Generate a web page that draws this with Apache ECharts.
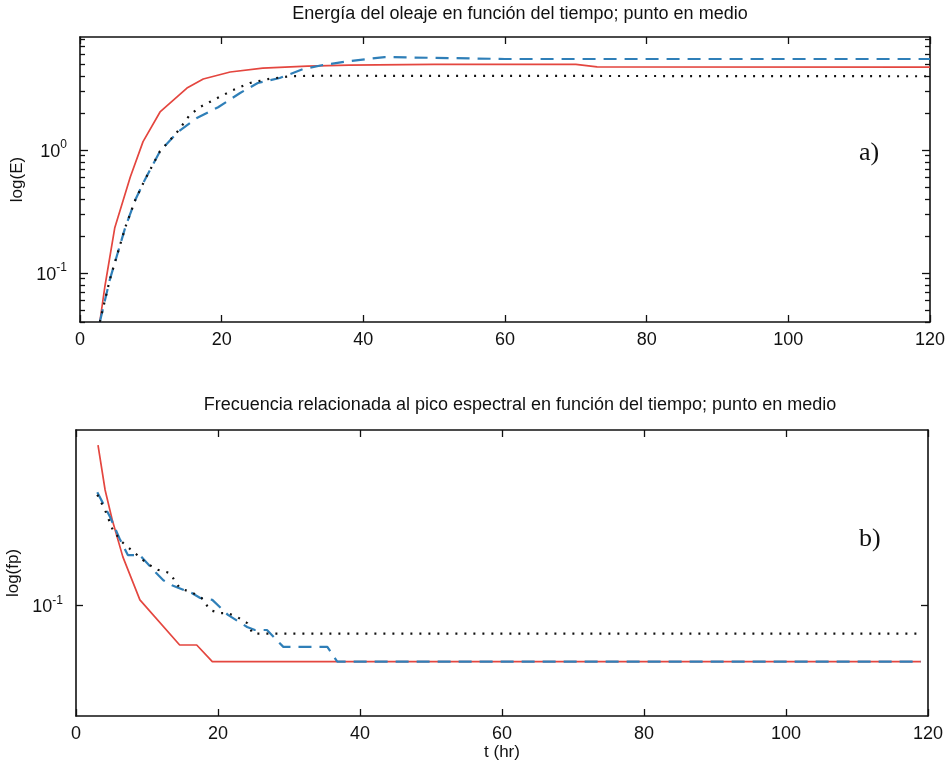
<!DOCTYPE html>
<html>
<head>
<meta charset="utf-8">
<script src="https://cdn.jsdelivr.net/npm/echarts@6/dist/echarts.min.js"></script>
<style>html,body{margin:0;padding:0;background:#fff}#c{width:947px;height:769px}</style>
</head>
<body>
<div id="c"></div>
<script>
// ---- Data ----
const xTicks = [0, 20, 40, 60, 80, 100, 120];

// a) Energy vs time
const energyRed = [[2.8,0.04],[3.5,0.077],[4.9,0.232],[7.1,0.603],[8.9,1.17],[11.3,2.04],[15.1,3.19],[17.4,3.78],[21.2,4.31],[25.8,4.64],[32.1,4.82],[38,4.9],[50,4.97],[70,4.97],[73,4.75],[120,4.72]];
const energyBlue = [[2.8,0.04],[4.2,0.088],[6.4,0.236],[7.8,0.392],[9.2,0.58],[11.3,0.98],[13.8,1.40],[16.5,1.82],[19.5,2.23],[22.6,2.91],[25.1,3.51],[28.2,3.85],[31.5,4.56],[34.3,4.91],[38.1,5.29],[43,5.7],[50,5.62],[60,5.5],[120,5.5]];
const energyDot = [[2.8,0.04],[4.2,0.088],[6.4,0.236],[7.8,0.392],[9.2,0.58],[11.3,0.98],[13.8,1.42],[15.5,1.93],[16.9,2.23],[19.4,2.65],[21.6,3.07],[24,3.51],[26.8,3.8],[29.7,3.98],[33.5,4.02],[120,3.98]];

// b) Peak frequency vs time
const freqRed = [[3.1,0.273],[4.1,0.206],[5.1,0.171],[6.6,0.1355],[9.0,0.1035],[14.6,0.078],[17.0,0.078],[19.2,0.0703],[119,0.0703]];
const freqBlue = [[3.0,0.203],[4.8,0.174],[6.2,0.151],[7.3,0.137],[9.0,0.137],[10.7,0.126],[12.3,0.117],[13.5,0.1135],[16.3,0.108],[17.5,0.1047],[19.2,0.1035],[21.4,0.0942],[24.1,0.0873],[25.2,0.0857],[26.9,0.0857],[29.2,0.0771],[35.4,0.0771],[36.8,0.0703],[119,0.0703]];
const freqDot = [[3.0,0.2],[4.1,0.1815],[5.2,0.16],[6.5,0.1486],[10,0.130],[11.5,0.125],[13.2,0.1225],[14.6,0.1115],[16.5,0.108],[17.7,0.1047],[18.9,0.097],[20.3,0.0953],[21.3,0.0953],[22.7,0.093],[24.1,0.0895],[24.9,0.0838],[119,0.0838]];

// Tick values
const energyYLabels = [0.1, 1];
const energyYMinor = [0.04,0.05,0.06,0.07,0.08,0.09,0.2,0.3,0.4,0.5,0.6,0.7,0.8,0.9,2,3,4,5,6,7,8];
const freqYLabels = [0.1];

const titleA = 'Energía del oleaje en función del tiempo; punto en medio';
const titleB = 'Frecuencia relacionada al pico espectral en función del tiempo; punto en medio';

// ---- Chart ----
const FONT = "'Liberation Sans',Arial,sans-serif";
const RED = '#e4463f', BLUE = '#2f7fb8', BLACK = '#111';
const lineAxis = {onZero:false, lineStyle:{color:'#111',width:1.6}};

function powLabel(v){
  const e = Math.round(Math.log10(v));
  return '{b|10}{s|' + (e < 0 ? '-' + (-e) : e) + '}';
}
const richSup = {
  b:{fontSize:18,fontFamily:FONT,color:'#111',verticalAlign:'bottom',lineHeight:22},
  s:{fontSize:12,fontFamily:FONT,color:'#111',verticalAlign:'top',lineHeight:22,padding:[0,0,10,0]}
};

function xAx(gi, pos, labels, extra){
  return Object.assign({
    type:'value', gridIndex:gi, position:pos, min:0, max:120, interval:20,
    axisLine:lineAxis, axisTick:{show:true,inside:true,length:7,lineStyle:{color:'#111',width:1.3}},
    axisLabel:{show:labels,fontSize:18,fontFamily:FONT,color:'#111',margin:9},
    splitLine:{show:false}
  }, extra||{});
}
function yAx(gi, pos, labels, min, max, ticks, tickLen, labs, showLine, extra){
  return Object.assign({
    type:'log', logBase:10, gridIndex:gi, position:pos, min:min, max:max,
    axisLine:Object.assign({show:showLine}, lineAxis),
    axisTick:{show:true,inside:true,length:tickLen,customValues:ticks,lineStyle:{color:'#111',width:1.3}},
    axisLabel:{show:labels,customValues:labs,margin:13,formatter:powLabel,rich:richSup},
    splitLine:{show:false}, minorTick:{show:false}
  }, extra||{});
}
const nameStyle = {fontSize:17,fontFamily:FONT,color:'#111'};

const chart = echarts.init(document.getElementById('c'), null, {renderer:'canvas'});
chart.setOption({
  animation:false,
  backgroundColor:'#fff',
  grid:[
    {left:80, top:37, width:850, height:285, outerBoundsMode:'none'},
    {left:76, top:430, width:852, height:286, outerBoundsMode:'none'}
  ],
  xAxis:[
    xAx(0,'bottom',true),
    xAx(0,'top',false),
    xAx(1,'bottom',true,{name:'t (hr)',nameLocation:'middle',nameGap:28,nameTextStyle:nameStyle}),
    xAx(1,'top',false)
  ],
  yAxis:[
    // top grid: major ticks with labels, minor ticks on both sides
    yAx(0,'left',true,0.04,8.3,energyYLabels,8,energyYLabels,true,{name:'log(E)',nameLocation:'middle',nameGap:42,nameRotate:90,nameTextStyle:nameStyle}),
    yAx(0,'right',false,0.04,8.3,energyYLabels,8,energyYLabels,true),
    yAx(0,'left',false,0.04,8.3,energyYMinor,5,energyYLabels,false),
    yAx(0,'right',false,0.04,8.3,energyYMinor,5,energyYLabels,false),
    // bottom grid
    yAx(1,'left',true,0.05,0.3,freqYLabels,7,freqYLabels,true,{name:'log(fp)',nameLocation:'middle',nameGap:41,nameRotate:90,nameTextStyle:nameStyle}),
    yAx(1,'right',false,0.05,0.3,freqYLabels,7,freqYLabels,true)
  ],
  series:[
    {type:'line',xAxisIndex:0,yAxisIndex:0,data:energyRed,showSymbol:false,lineStyle:{color:RED,width:1.7},z:2},
    {type:'line',xAxisIndex:0,yAxisIndex:0,data:energyBlue,showSymbol:false,lineStyle:{color:BLUE,width:2.2,type:[13,8]},z:3},
    {type:'line',xAxisIndex:0,yAxisIndex:0,data:energyDot,showSymbol:false,lineStyle:{color:BLACK,width:2.2,type:[2,7]},z:4},
    {type:'line',xAxisIndex:2,yAxisIndex:4,data:freqRed,showSymbol:false,lineStyle:{color:RED,width:1.7},z:2},
    {type:'line',xAxisIndex:2,yAxisIndex:4,data:freqBlue,showSymbol:false,lineStyle:{color:BLUE,width:2.2,type:[13,8]},z:3},
    {type:'line',xAxisIndex:2,yAxisIndex:4,data:freqDot,showSymbol:false,lineStyle:{color:BLACK,width:2.2,type:[2,7]},z:4}
  ],
  graphic:[
    {type:'text',x:520,y:5,style:{text:titleA,textAlign:'center',fontSize:18,fontFamily:FONT,fill:'#111'}},
    {type:'text',x:520,y:396,style:{text:titleB,textAlign:'center',fontSize:18,fontFamily:FONT,fill:'#111'}},
    {type:'text',x:859,y:140,style:{text:'a)',fontSize:26,fontFamily:"'Liberation Serif','DejaVu Serif',serif",fill:'#111'}},
    {type:'text',x:859,y:526,style:{text:'b)',fontSize:26,fontFamily:"'Liberation Serif','DejaVu Serif',serif",fill:'#111'}}
  ]
});
</script>
</body>
</html>
